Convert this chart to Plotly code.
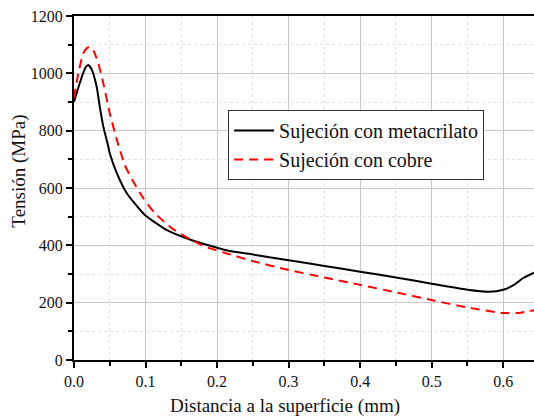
import plotly.graph_objects as go

x_meta = [0, 0.006, 0.012, 0.016, 0.020, 0.025, 0.0317, 0.036, 0.041, 0.048, 0.05, 0.06, 0.074, 0.099, 0.13,
          0.167, 0.216, 0.25, 0.3, 0.35, 0.4, 0.45, 0.5, 0.55, 0.58, 0.6, 0.615, 0.628, 0.643]
y_meta = [901, 950, 995, 1020, 1029, 1012, 953, 884, 814, 744, 721, 651, 581, 506, 453,
          416, 381, 368, 348, 328, 308, 288, 266, 245, 238, 245, 262, 286, 305]

x_cobre = [0, 0.006, 0.013, 0.018, 0.023, 0.028, 0.034, 0.041, 0.05, 0.06, 0.071, 0.083, 0.097, 0.113, 0.137,
           0.162, 0.186, 0.216, 0.25, 0.3, 0.35, 0.4, 0.45, 0.5, 0.55, 0.6, 0.624, 0.643]
y_cobre = [915, 1000, 1070, 1088, 1093, 1075, 1035, 965, 861, 767, 680, 622, 564, 512, 459,
           421, 393, 370, 345, 314, 288, 262, 236, 209, 183, 164, 165, 174]

x_ticks = [0.0, 0.1, 0.2, 0.3, 0.4, 0.5, 0.6]
x_labels = ["0.0", "0.1", "0.2", "0.3", "0.4", "0.5", "0.6"]
y_ticks = [0, 200, 400, 600, 800, 1000, 1200]

x_title = "Distancia a la superficie (mm)"
y_title = "Tensión (MPa)"

font = "Liberation Serif"

fig = go.Figure()
fig.add_trace(go.Scatter(x=x_meta, y=y_meta, mode="lines", name="Sujeción con metacrilato",
                         line=dict(color="black", width=2, shape="spline", smoothing=0.5)))
fig.add_trace(go.Scatter(x=x_cobre, y=y_cobre, mode="lines", name="Sujeción con cobre",
                         line=dict(color="#ff0000", width=2, dash="9px,6px", shape="spline", smoothing=0.5)))

fig.update_layout(
    width=534, height=418,
    margin=dict(l=74, r=0, t=16, b=58),
    paper_bgcolor="white", plot_bgcolor="white",
    font=dict(family=font, color="#111111", size=16),
    showlegend=True,
    legend=dict(x=0.335, y=0.727, xanchor="left", yanchor="top",
                bgcolor="white", bordercolor="#333333", borderwidth=1,
                font=dict(family=font, size=20, color="#111111"),
                tracegroupgap=0, itemwidth=40),
    annotations=[
        dict(text=x_title, xref="paper", yref="paper", x=0.4587, y=-0.097,
             xanchor="center", yanchor="top", showarrow=False,
             font=dict(family=font, size=19, color="#111111")),
        dict(text=y_title, xref="paper", yref="paper", x=-0.1185, y=0.549,
             xanchor="center", yanchor="middle", showarrow=False, textangle=-90,
             font=dict(family=font, size=19, color="#111111")),
    ],
)
fig.update_xaxes(
    range=[0, 0.643], tickvals=x_ticks, ticktext=x_labels, automargin=False,
    showline=True, linecolor="black", linewidth=2, mirror=True,
    ticks="outside", ticklen=6, tickwidth=1.5, tickcolor="black",
    showgrid=True, gridcolor="#c8c8c8", gridwidth=1,
    minor=dict(dtick=0.05, ticks="outside", ticklen=4, tickcolor="black", tickwidth=1.5,
               showgrid=True, gridcolor="#e4e4e4", griddash="dot", gridwidth=1),
    zeroline=False,
    tickfont=dict(family=font, size=16, color="#111111"),
)
fig.update_yaxes(
    range=[0, 1200], tickvals=y_ticks, automargin=False,
    showline=True, linecolor="black", linewidth=2,
    ticks="outside", ticklen=6, tickwidth=1.5, tickcolor="black",
    showgrid=True, gridcolor="#c8c8c8", gridwidth=1,
    minor=dict(dtick=100, ticks="outside", ticklen=4, tickcolor="black", tickwidth=1.5,
               showgrid=True, gridcolor="#e4e4e4", griddash="dot", gridwidth=1),
    zeroline=False,
    tickfont=dict(family=font, size=16, color="#111111"),
)
fig.write_html("out.html", config={"displayModeBar": False},
               post_script="document.body.style.margin='0';document.body.style.padding='0';")
